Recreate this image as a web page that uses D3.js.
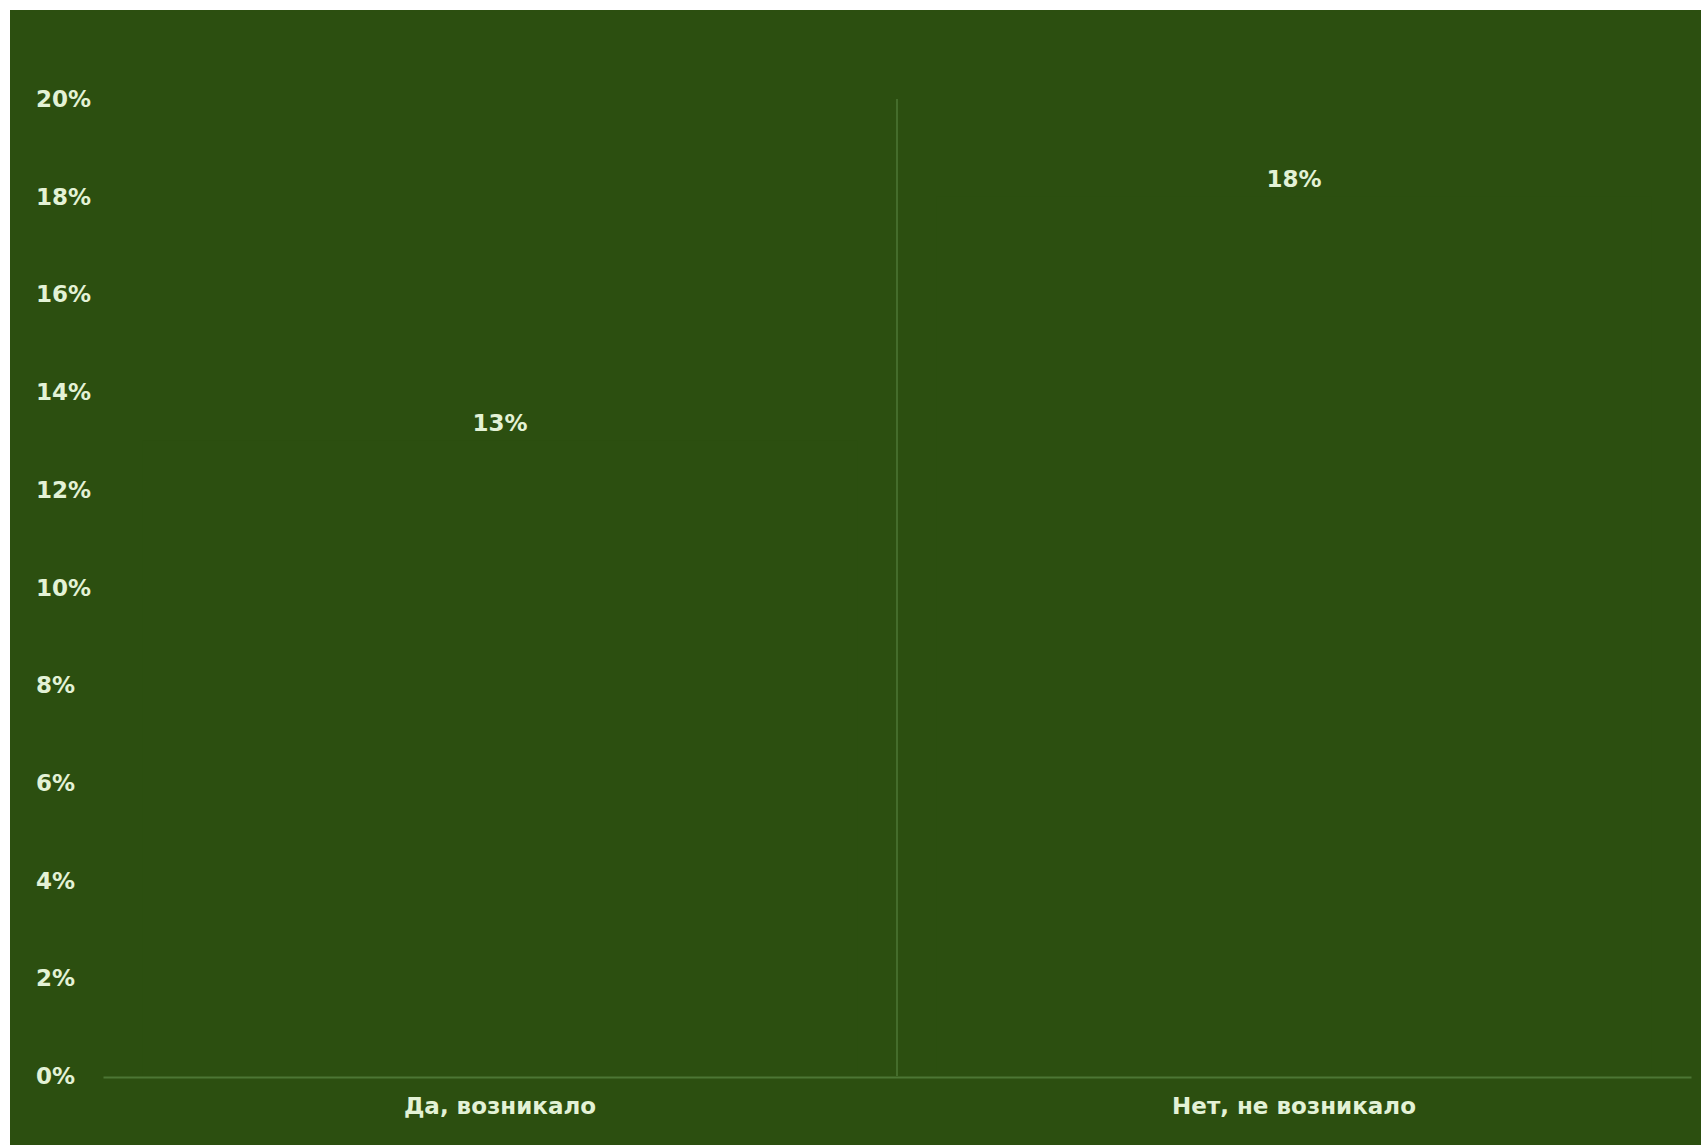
<!DOCTYPE html>
<html>
<head>
<meta charset="UTF-8">
<title>Да / Нет</title>
<style>
  body { margin: 0; background: #fff; }
  text { font-family: "DejaVu Sans", sans-serif; font-weight: bold; }
</style>
</head>
<body>
<script src="https://d3js.org/d3.v7.min.js"></script>
<script>
  // chart data
  var categories = ["Да, возникало", "Нет, не возникало"];
  var values = [13, 18];
  var yTicks = [0, 2, 4, 6, 8, 10, 12, 14, 16, 18, 20];

  var W = 1701, H = 1145;
  var bg = "#2c4f10";
  var ink = "#e3f2d6";
  var margin = {top: 99, right: 10, bottom: 69, left: 103};

  var svg = d3.select("body").append("svg")
      .attr("width", W)
      .attr("height", H);

  // green panel, white strip top and left
  svg.append("rect")
      .attr("x", 10).attr("y", 10)
      .attr("width", W - 10).attr("height", H - 10)
      .attr("fill", bg);

  var g = svg.append("g")
      .attr("transform", "translate(" + margin.left + "," + margin.top + ")");

  var width = W - margin.left - margin.right;
  var height = H - margin.top - margin.bottom;

  var x = d3.scaleBand().domain(categories).range([0, width])
      .paddingInner(0.1).paddingOuter(0.05);
  var y = d3.scaleLinear().domain([0, 20]).range([height, 0]);

  // divider between categories
  g.append("line")
      .attr("x1", width / 2).attr("x2", width / 2)
      .attr("y1", y(20)).attr("y2", y(0))
      .attr("stroke", "#4c7634")
      .attr("stroke-width", 1.5);

  // bars (same colour as panel, as in the original)
  g.selectAll("rect.bar")
      .data(values)
    .enter().append("rect")
      .attr("class", "bar")
      .attr("x", function(d, i) { return x(categories[i]); })
      .attr("width", x.bandwidth())
      .attr("y", function(d) { return y(d); })
      .attr("height", function(d) { return y(0) - y(d); })
      .attr("fill", bg);

  // value labels
  g.selectAll("text.val")
      .data(values)
    .enter().append("text")
      .attr("class", "val")
      .attr("x", function(d, i) { return x(categories[i]) + x.bandwidth() / 2; })
      .attr("y", function(d) { return y(d) - 10; })
      .attr("text-anchor", "middle")
      .attr("fill", ink)
      .style("font-size", "23px")
      .text(function(d) { return d + "%"; });

  // y axis labels
  g.selectAll("text.ytick")
      .data(yTicks)
    .enter().append("text")
      .attr("class", "ytick")
      .attr("x", 36 - margin.left)
      .attr("y", function(d) { return y(d); })
      .attr("dy", "0.35em")
      .attr("fill", ink)
      .style("font-size", "23px")
      .text(function(d) { return d + "%"; });

  // x axis
  var xAxis = g.append("g")
      .attr("transform", "translate(0," + (height + 1) + ")")
      .call(d3.axisBottom(x).tickSize(0).tickPadding(21));
  xAxis.select(".domain")
      .attr("stroke", "#4c7634")
      .attr("stroke-width", 2);
  xAxis.selectAll(".tick text")
      .attr("fill", ink)
      .style("font-size", "23px")
      .style("font-family", "'DejaVu Sans', sans-serif")
      .style("font-weight", "bold");
</script>
</body>
</html>
